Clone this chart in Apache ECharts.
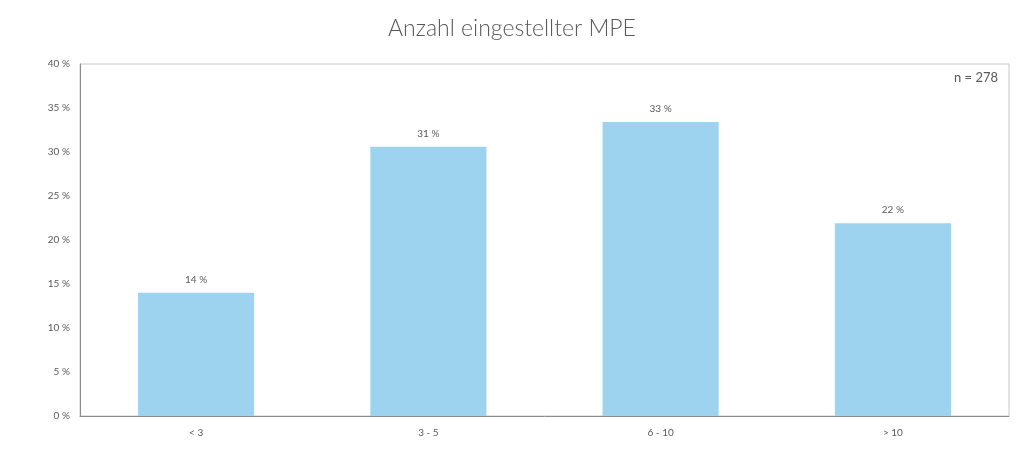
<!DOCTYPE html>
<html lang="de">

<head>
  <meta charset="UTF-8">
  <title>Anzahl eingestellter MPE</title>
  <style>
    html, body {
      margin: 0;
      width: 100%;
      height: 100%;
      background: #fff;
    }

    .chart {
      width: 1024px;
      height: 466px;
    }
  </style>
</head>

<body>
  <div id="chart" class="chart"></div>

  <script src="https://cdn.jsdelivr.net/npm/echarts@6/dist/echarts.min.js"></script>
  <script>
    // Kategorien und Werte (in %)
    var categories = ['< 3', '3 - 5', '6 - 10', '> 10'];
    var values = [14.0, 30.6, 33.4, 21.9];
    var yTicks = [0, 5, 10, 15, 20, 25, 30, 35, 40];
    var note = 'n = 278';

    var myChart = echarts.init(document.getElementById('chart'));
    var font = 'Lato, "Open Sans", sans-serif';

    var option = {
      animation: false,
      title: {
        text: 'Anzahl eingestellter MPE',
        left: 'center',
        top: 12,
        textStyle: {
          fontFamily: font,
          fontWeight: 300,
          fontSize: 23,
          color: '#595959'
        }
      },
      graphic: [{
        type: 'text',
        right: 26,
        top: 71,
        style: {
          text: note,
          fontFamily: font,
          fontSize: 13,
          fill: '#595959'
        }
      }],
      grid: {
        left: 80,
        right: 15,
        top: 64,
        bottom: 50,
        show: true,
        borderColor: '#c8c8c8',
        borderWidth: 1
      },
      xAxis: {
        type: 'category',
        data: categories,
        axisLine: { lineStyle: { color: '#8c8c8c' } },
        axisTick: { show: false },
        axisLabel: {
          margin: 12,
          fontFamily: font,
          fontSize: 10,
          color: '#595959'
        }
      },
      yAxis: {
        type: 'value',
        min: yTicks[0],
        max: yTicks[yTicks.length - 1],
        interval: 5,
        splitLine: { show: false },
        axisLine: { show: true, lineStyle: { color: '#8c8c8c' } },
        axisTick: { show: false },
        axisLabel: {
          margin: 10,
          fontFamily: font,
          fontSize: 10,
          color: '#595959',
          formatter: '{value} %'
        }
      },
      series: [{
        type: 'bar',
        data: values,
        barWidth: '50%',
        itemStyle: { color: '#9dd3ef' },
        label: {
          show: true,
          position: 'top',
          distance: 8,
          fontFamily: font,
          fontSize: 10,
          color: '#595959',
          formatter: function (p) {
            return Math.round(p.value) + ' %';
          }
        }
      }]
    };

    myChart.setOption(option);
  </script>
</body>

</html>
